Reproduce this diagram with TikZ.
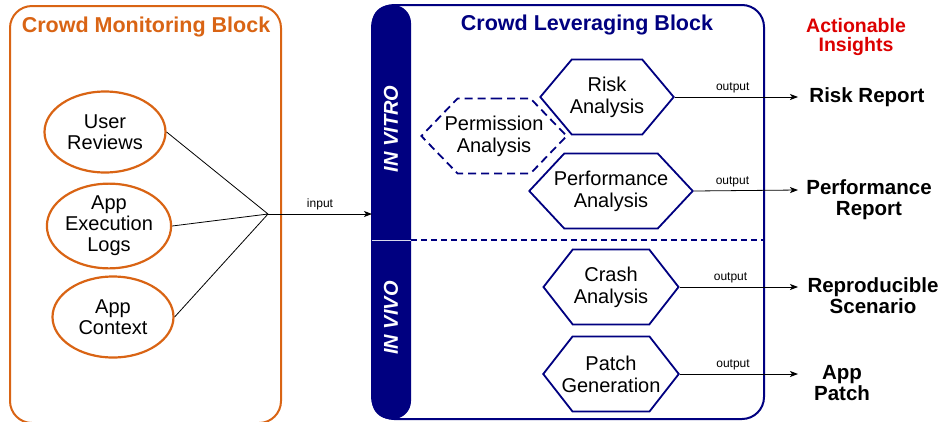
\documentclass[tikz,border=0pt]{standalone}
\usepackage{fontspec}
\setmainfont{Liberation Sans}
\usetikzlibrary{shapes.geometric, shapes.symbols, arrows.meta, positioning}
\definecolor{monorange}{RGB}{217,100,20}
\definecolor{levnavy}{RGB}{0,0,128}
\definecolor{insightred}{RGB}{220,0,0}

\begin{document}
\begin{tikzpicture}[x=1pt, y=-1pt,
    source/.style={ellipse, draw=monorange, line width=2.2pt, minimum width=121pt, minimum height=81pt, inner sep=0pt, align=center, font=\fontsize{20}{21}\selectfont},
    analysis/.style={signal, signal to=east and west, draw=levnavy, line width=1.8pt, minimum height=75pt, inner ysep=0pt, align=center, font=\fontsize{20}{22}\selectfont},
    insight/.style={align=center, font=\fontsize{20.5}{21}\selectfont\bfseries},
    blocktitle/.style={font=\fontsize{21.5}{21.5}\selectfont\bfseries},
    sidetext/.style={rotate=90, text=white, font=\fontsize{20}{20}\selectfont\bfseries\itshape},
    tag/.style={font=\fontsize{12}{12}\selectfont},
    flow/.style={-{Stealth[length=8pt, width=6pt, inset=2pt]}, line width=0.8pt}
  ]
  \useasboundingbox (0,0) rectangle (941,421);

  \draw[monorange, line width=2pt, rounded corners=22pt] (10,6) rectangle (281,423);
  \node[blocktitle, text=monorange] (montitle) at (146,27) {Crowd Monitoring Block};

  \draw[levnavy, line width=2pt, rounded corners=22pt] (372,5) rectangle (764,419);
  \fill[levnavy, rounded corners=18pt] (372,5) rectangle (411,419);
  \draw[white!85!levnavy, line width=0.8pt] (372,240) -- (411,240);
  \draw[levnavy, line width=1.5pt, dash pattern=on 6pt off 4pt] (411,240) -- (764,240);
  \node[sidetext] (vitro) at (391,129) {IN VITRO};
  \node[sidetext] (vivo) at (391,318) {IN VIVO};
  \node[blocktitle, text=levnavy] (levtitle) at (587,25) {Crowd Leveraging Block};

  \node[insight, text=insightred, font=\fontsize{19.5}{18.5}\selectfont\bfseries] (insights) at (856,37) {Actionable\\Insights};

  \node[source] (reviews) at (105,132) {User\\Reviews};
  \node[source] (logs) at (109,226) {App\\Execution\\Logs};
  \node[source] (context) at (113,317) {App\\Context};

  \coordinate (join) at (268,214);
  \coordinate (entry) at (372,214);
  \draw[line width=0.8pt]
  (reviews.east) -- (join)
  (logs.east) -- (join)
  (context.east) -- (join);
  \draw[flow] (join) -- node[tag, above] {input} (entry);

  \node[analysis, signal pointer angle=100, inner xsep=-2pt] (risk) at (607,97) {Risk\\Analysis};
  \node[analysis, signal pointer angle=92, inner xsep=-13pt, dash pattern=on 8pt off 5pt] (perm) at (494,136) {Permission\\Analysis};
  \node[analysis, signal pointer angle=94, inner xsep=-10.5pt] (perf) at (611,191) {Performance\\Analysis};
  \node[analysis, signal pointer angle=104, inner xsep=1pt] (crash) at (611,287) {Crash\\Analysis};
  \node[analysis, signal pointer angle=104, inner xsep=-11pt] (patch) at (611,374) {Patch\\Generation};

  \coordinate (out1) at (798,97);
  \coordinate (out2) at (798,190);
  \coordinate (out3) at (798,287);
  \coordinate (out4) at (798,374);
  \draw[flow] (risk.east) -- node[tag, above, pos=0.47] {output} (out1);
  \draw[flow] (perf.east) -- node[tag, above, pos=0.37] {output} (out2);
  \draw[flow] (crash.east) -- node[tag, above, pos=0.43] {output} (out3);
  \draw[flow] (patch.east) -- node[tag, above, pos=0.45] {output} (out4);

  \node[insight] (riskrep) at (867,97) {Risk Report};
  \node[insight] (perfrep) at (869,200) {Performance\\Report};
  \node[insight] (scenario) at (873,296) {Reproducible\\Scenario};
  \node[insight] (apppatch) at (842,383) {App\\Patch};
\end{tikzpicture}
\end{document}
